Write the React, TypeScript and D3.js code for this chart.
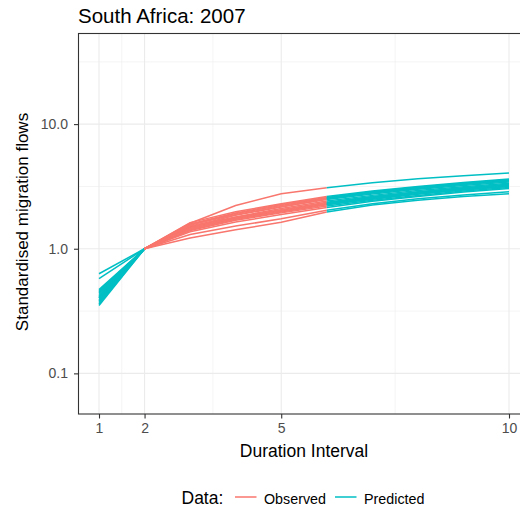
import React, { useEffect, useRef } from 'react';
import * as d3 from 'd3';

// durations shown on each piece of the curves
const leftDurations = [1, 2];
const obsDurations = [2, 3, 4, 5, 6];
const rightDurations = [6, 7, 8, 9, 10];

// predicted value at duration 1 (duration 2 is the standard, = 1)
const predLeft = [0.4, 0.38, 0.42, 0.36, 0.44, 0.47, 0.39, 0.35, 0.46, 0.41, 0.43, 0.575, 0.63, 0.37, 0.45, 0.4];

// observed values, durations 2..6
const observed = [
  [1, 1.6, 2.22, 2.76, 3.09],
  [1, 1.62, 1.98, 2.3, 2.62],
  [1, 1.56, 1.92, 2.22, 2.55],
  [1, 1.58, 1.94, 2.26, 2.58],
  [1, 1.5, 1.86, 2.16, 2.48],
  [1, 1.48, 1.8, 2.1, 2.42],
  [1, 1.52, 1.79, 2.06, 2.36],
  [1, 1.45, 1.75, 2.0, 2.3],
  [1, 1.42, 1.72, 1.97, 2.25],
  [1, 1.4, 1.69, 1.94, 2.2],
  [1, 1.37, 1.64, 1.88, 2.14],
  [1, 1.3, 1.52, 1.74, 2.04],
  [1, 1.22, 1.42, 1.63, 1.97],
  [1, 1.55, 1.88, 2.18, 2.52],
  [1, 1.47, 1.77, 2.04, 2.33],
  [1, 1.43, 1.73, 1.99, 2.27],
];

// predicted values, durations 6..10
const predRight = [
  [3.09, 3.38, 3.64, 3.86, 4.05],
  [2.62, 2.9, 3.16, 3.4, 3.62],
  [2.55, 2.83, 3.08, 3.31, 3.53],
  [2.58, 2.86, 3.11, 3.35, 3.57],
  [2.48, 2.75, 3.0, 3.22, 3.43],
  [2.42, 2.68, 2.93, 3.15, 3.36],
  [2.36, 2.62, 2.86, 3.08, 3.29],
  [2.3, 2.56, 2.8, 3.02, 3.22],
  [2.25, 2.5, 2.74, 2.96, 3.16],
  [2.2, 2.45, 2.68, 2.9, 3.1],
  [2.14, 2.4, 2.63, 2.85, 3.05],
  [2.04, 2.3, 2.52, 2.7, 2.86],
  [1.97, 2.24, 2.45, 2.62, 2.76],
  [2.52, 2.8, 3.05, 3.28, 3.5],
  [2.33, 2.6, 2.84, 3.06, 3.26],
  [2.27, 2.53, 2.77, 2.99, 3.19],
];

const xBreaks = [1, 2, 5, 10];
const xMinor = [1.5, 3.5, 7.5];
const yBreaks = [0.1, 1, 10];
const yMinor = [0.316, 3.16, 31.6];
const legendKeys = ['Observed', 'Predicted'];

const OBS = '#F8766D';
const PRED = '#00BFC4';
const FONT = '"Liberation Sans", Arial, sans-serif';

export default function App() {
  const ref = useRef<SVGSVGElement>(null);

  useEffect(() => {
    const width = 520, height = 507;
    const margin = { top: 33.5, right: -9.5, bottom: 93, left: 78.5 };
    const innerWidth = width - margin.left - margin.right;
    const innerHeight = height - margin.top - margin.bottom;

    const svg = d3.select(ref.current).attr('width', width).attr('height', height);
    svg.selectAll('*').remove();
    svg.append('rect').attr('width', width).attr('height', height).attr('fill', '#fff');

    const xScale = d3.scaleLinear().domain([0.55, 10.45]).range([0, innerWidth]);
    const yScale = d3.scaleLog().domain([Math.pow(10, -1.326), Math.pow(10, 1.727)]).range([innerHeight, 0]);

    const g = svg.append('g').attr('transform', `translate(${margin.left},${margin.top})`);

    // grid
    g.selectAll('.ygm').data(yMinor).join('line').attr('x1', 0).attr('x2', innerWidth)
      .attr('y1', d => yScale(d)).attr('y2', d => yScale(d)).attr('stroke', '#EBEBEB').attr('stroke-width', 0.55);
    g.selectAll('.xgm').data(xMinor).join('line').attr('y1', 0).attr('y2', innerHeight)
      .attr('x1', d => xScale(d)).attr('x2', d => xScale(d)).attr('stroke', '#EBEBEB').attr('stroke-width', 0.55);
    g.selectAll('.yg').data(yBreaks).join('line').attr('x1', 0).attr('x2', innerWidth)
      .attr('y1', d => yScale(d)).attr('y2', d => yScale(d)).attr('stroke', '#EBEBEB').attr('stroke-width', 1.1);
    g.selectAll('.xg').data(xBreaks).join('line').attr('y1', 0).attr('y2', innerHeight)
      .attr('x1', d => xScale(d)).attr('x2', d => xScale(d)).attr('stroke', '#EBEBEB').attr('stroke-width', 1.1);

    const line = d3.line<[number, number]>().x(d => xScale(d[0])).y(d => yScale(d[1]));
    const lines = g.append('g').attr('fill', 'none').attr('stroke-width', 1.5);

    predLeft.forEach(v => {
      const pts = leftDurations.map((d, i) => [d, i === 0 ? v : 1] as [number, number]);
      lines.append('path').attr('d', line(pts)).attr('stroke', PRED);
    });
    observed.forEach(s => {
      lines.append('path').attr('d', line(obsDurations.map((d, i) => [d, s[i]] as [number, number]))).attr('stroke', OBS);
    });
    predRight.forEach(s => {
      lines.append('path').attr('d', line(rightDurations.map((d, i) => [d, s[i]] as [number, number]))).attr('stroke', PRED);
    });

    g.append('rect').attr('width', innerWidth).attr('height', innerHeight).attr('fill', 'none')
      .attr('stroke', '#333333').attr('stroke-width', 1.1);

    // axes
    const xAxis = g.append('g').attr('transform', `translate(0,${innerHeight})`)
      .call(d3.axisBottom(xScale).tickValues(xBreaks).tickSize(4.5).tickPadding(4.5).tickFormat(d3.format('d')));
    const yAxis = g.append('g')
      .call(d3.axisLeft(yScale).tickValues(yBreaks).tickSize(4.5).tickPadding(6).tickFormat(d3.format('.1f')));
    [xAxis, yAxis].forEach(a => {
      a.select('.domain').remove();
      a.selectAll('line').attr('stroke', '#333333').attr('stroke-width', 1.1);
      a.selectAll('text').attr('fill', '#4D4D4D').style('font-size', '14px').style('font-family', FONT);
    });

    svg.append('text').attr('x', 78).attr('y', 23).style('font-size', '20.5px').style('font-family', FONT)
      .attr('fill', '#000').text('South Africa: 2007');
    svg.append('text').attr('x', margin.left + innerWidth / 2).attr('y', 456.5).style('font-size', '17.5px')
      .style('font-family', FONT).style('text-anchor', 'middle').text('Duration Interval');
    svg.append('text').attr('transform', `translate(28,222) rotate(-90)`)
      .style('font-size', '17px').style('font-family', FONT).style('text-anchor', 'middle')
      .text('Standardised migration flows');

    // legend
    const legend = svg.append('g').attr('transform', 'translate(181.5,497)');
    legend.append('text').attr('x', 0).attr('y', 7).style('font-size', '17.5px').style('font-family', FONT).text('Data:');
    const colors = [OBS, PRED];
    const offsets = [53.5, 153.5];
    legendKeys.forEach((k, i) => {
      legend.append('line').attr('x1', offsets[i]).attr('x2', offsets[i] + 21.5).attr('y1', 0).attr('y2', 0)
        .attr('stroke', colors[i]).attr('stroke-width', 1.5);
      legend.append('text').attr('x', offsets[i] + 29).attr('y', 6.5).style('font-size', '14.3px')
        .style('font-family', FONT).attr('fill', '#000').text(k);
    });
  }, []);

  return <svg ref={ref} style={{ position: 'absolute', left: 0, top: 0 }}></svg>;
}
